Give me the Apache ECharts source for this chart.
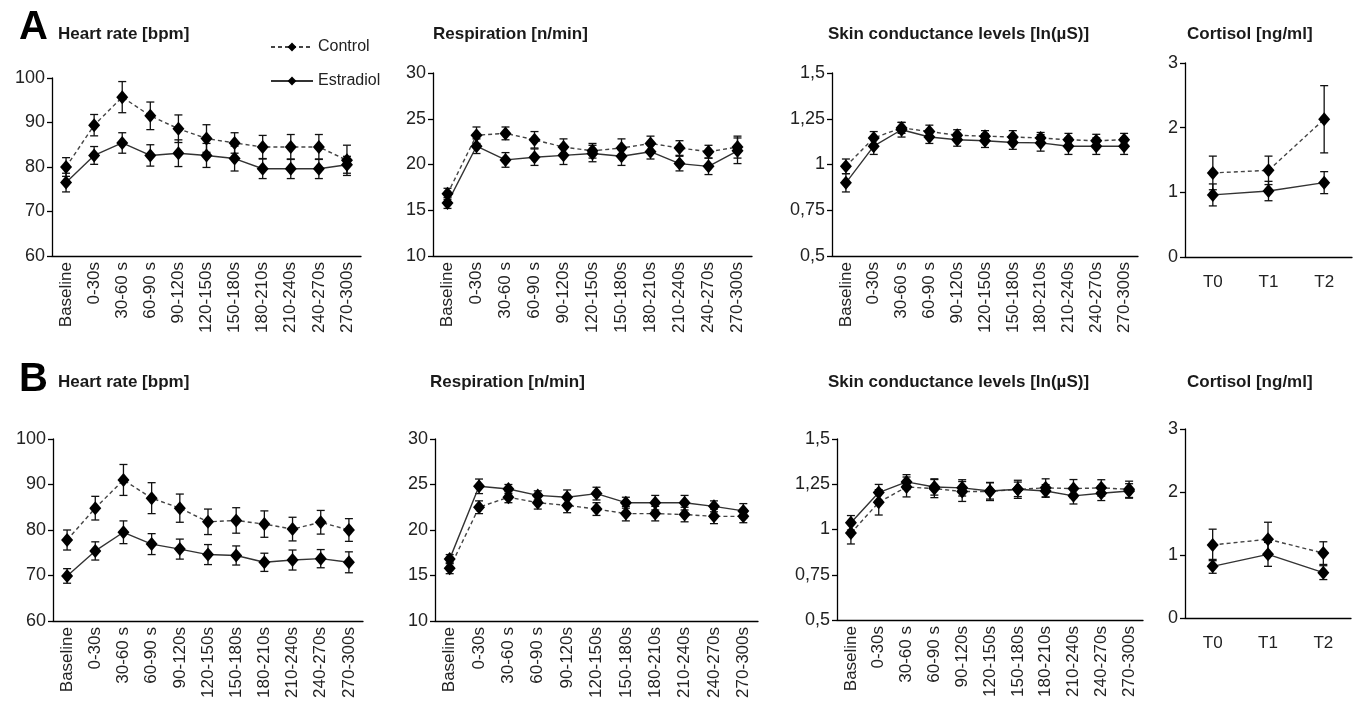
<!DOCTYPE html>
<html>
<head>
<meta charset="utf-8">
<script src="https://cdn.jsdelivr.net/npm/echarts@6/dist/echarts.min.js"></script>
<style>
  html, body { margin: 0; padding: 0; background: #fff; }
  #main { width: 1355px; height: 701px; }
</style>
</head>
<body>
<div id="main"></div>
<script>
// categories
var timeCats = ['Baseline', '0-30s', '30-60 s', '60-90 s', '90-120s', '120-150s', '150-180s', '180-210s', '210-240s', '240-270s', '270-300s'];
var cortCats = ['T0', 'T1', 'T2'];

// A: heart rate
var hrACtrl = [80.0, 89.4, 95.7, 91.5, 88.6, 86.4, 85.4, 84.5, 84.5, 84.5, 81.5];
var hrACtrlSe = [2.1, 2.4, 3.5, 3.1, 3.1, 3.1, 2.3, 2.6, 2.8, 2.8, 3.4];
var hrAEstr = [76.5, 82.6, 85.4, 82.6, 83.1, 82.6, 81.9, 79.6, 79.6, 79.6, 80.5];
var hrAEstrSe = [2.1, 2.0, 2.3, 2.4, 3.0, 2.7, 2.8, 2.2, 2.2, 2.2, 1.9];
// A: respiration
var respACtrl = [16.8, 23.2, 23.4, 22.7, 21.9, 21.5, 21.8, 22.3, 21.8, 21.4, 21.9];
var respACtrlSe = [0.6, 0.9, 0.7, 0.9, 0.9, 0.8, 1.0, 0.8, 0.8, 0.7, 1.2];
var respAEstr = [15.8, 22.0, 20.5, 20.8, 21.0, 21.2, 20.9, 21.4, 20.1, 19.8, 21.5];
var respAEstrSe = [0.6, 0.8, 0.8, 0.9, 1.0, 0.9, 1.0, 0.8, 0.8, 0.9, 1.4];
// A: skin conductance
var sclACtrl = [0.99, 1.145, 1.20, 1.18, 1.16, 1.155, 1.15, 1.145, 1.135, 1.13, 1.135];
var sclACtrlSe = [0.04, 0.035, 0.03, 0.035, 0.03, 0.03, 0.035, 0.03, 0.035, 0.035, 0.035];
var sclAEstr = [0.90, 1.10, 1.19, 1.15, 1.135, 1.13, 1.12, 1.118, 1.10, 1.10, 1.10];
var sclAEstrSe = [0.05, 0.045, 0.04, 0.035, 0.035, 0.037, 0.037, 0.045, 0.045, 0.045, 0.045];
// A: cortisol
var cortACtrl = [1.30, 1.34, 2.13];
var cortACtrlSe = [0.26, 0.22, 0.52];
var cortAEstr = [0.96, 1.02, 1.15];
var cortAEstrSe = [0.17, 0.15, 0.17];

// B: heart rate
var hrBCtrl = [77.8, 84.8, 91.0, 87.0, 84.8, 81.8, 82.1, 81.3, 80.2, 81.7, 80.0];
var hrBCtrlSe = [2.2, 2.6, 3.4, 3.4, 3.1, 2.8, 2.8, 2.9, 2.6, 2.6, 2.5];
var hrBEstr = [69.9, 75.4, 79.5, 76.9, 75.8, 74.6, 74.4, 72.9, 73.4, 73.7, 72.9];
var hrBEstrSe = [1.6, 2.0, 2.5, 2.3, 2.2, 2.2, 2.1, 2.0, 2.2, 2.0, 2.3];
// B: respiration
var respBCtrl = [15.8, 22.5, 23.6, 23.0, 22.7, 22.3, 21.8, 21.8, 21.7, 21.5, 21.5];
var respBCtrlSe = [0.6, 0.7, 0.6, 0.7, 0.8, 0.7, 0.8, 0.8, 0.8, 0.8, 0.7];
var respBEstr = [16.8, 24.8, 24.5, 23.8, 23.6, 24.0, 23.0, 23.0, 23.0, 22.6, 22.1];
var respBEstrSe = [0.5, 0.8, 0.5, 0.5, 0.8, 0.7, 0.6, 0.8, 0.8, 0.6, 0.8];
// B: skin conductance
var sclBCtrl = [0.98, 1.15, 1.235, 1.226, 1.21, 1.21, 1.222, 1.23, 1.226, 1.23, 1.222];
var sclBCtrlSe = [0.06, 0.07, 0.055, 0.05, 0.055, 0.05, 0.05, 0.05, 0.05, 0.045, 0.045];
var sclBEstr = [1.037, 1.204, 1.263, 1.235, 1.23, 1.213, 1.222, 1.213, 1.186, 1.2, 1.213];
var sclBEstrSe = [0.04, 0.045, 0.04, 0.045, 0.045, 0.045, 0.04, 0.035, 0.045, 0.04, 0.04];
// B: cortisol
var cortBCtrl = [1.16, 1.25, 1.03];
var cortBCtrlSe = [0.25, 0.27, 0.18];
var cortBEstr = [0.82, 1.01, 0.72];
var cortBEstrSe = [0.11, 0.19, 0.11];

var FONT = '"Liberation Sans", Arial, sans-serif';

// one entry per panel: data + where it sits
var panels = [
  {title: 'Heart rate [bpm]', cats: timeCats, c: hrACtrl, cs: hrACtrlSe, e: hrAEstr, es: hrAEstrSe, min: 60, max: 100, step: 10,
   box: {left: 52, top: 78, width: 309, height: 178}, tx: 58, ty: 26},
  {title: 'Respiration [n/min]', cats: timeCats, c: respACtrl, cs: respACtrlSe, e: respAEstr, es: respAEstrSe, min: 10, max: 30, step: 5,
   box: {left: 433, top: 73, width: 319, height: 183}, tx: 433, ty: 26},
  {title: 'Skin conductance levels [ln(µS)]', cats: timeCats, c: sclACtrl, cs: sclACtrlSe, e: sclAEstr, es: sclAEstrSe, min: 0.5, max: 1.5, step: 0.25,
   box: {left: 832, top: 73, width: 306, height: 183}, tx: 828, ty: 26},
  {title: 'Cortisol [ng/ml]', cats: cortCats, c: cortACtrl, cs: cortACtrlSe, e: cortAEstr, es: cortAEstrSe, min: 0, max: 3, step: 1,
   box: {left: 1185, top: 63, width: 167, height: 194}, tx: 1187, ty: 26},
  {title: 'Heart rate [bpm]', cats: timeCats, c: hrBCtrl, cs: hrBCtrlSe, e: hrBEstr, es: hrBEstrSe, min: 60, max: 100, step: 10,
   box: {left: 53, top: 439, width: 310, height: 182}, tx: 58, ty: 374},
  {title: 'Respiration [n/min]', cats: timeCats, c: respBCtrl, cs: respBCtrlSe, e: respBEstr, es: respBEstrSe, min: 10, max: 30, step: 5,
   box: {left: 435, top: 439, width: 323, height: 182}, tx: 430, ty: 374},
  {title: 'Skin conductance levels [ln(µS)]', cats: timeCats, c: sclBCtrl, cs: sclBCtrlSe, e: sclBEstr, es: sclBEstrSe, min: 0.5, max: 1.5, step: 0.25,
   box: {left: 837, top: 439, width: 306, height: 181}, tx: 828, ty: 374},
  {title: 'Cortisol [ng/ml]', cats: cortCats, c: cortBCtrl, cs: cortBCtrlSe, e: cortBEstr, es: cortBEstrSe, min: 0, max: 3, step: 1,
   box: {left: 1185, top: 429, width: 166, height: 189}, tx: 1187, ty: 374}
];

function errBars(params, api) {
  var lo = api.coord([api.value(0), api.value(1)]);
  var hi = api.coord([api.value(0), api.value(2)]);
  var w = 4;
  var st = {stroke: '#111', lineWidth: 1.3};
  return {
    type: 'group',
    children: [
      {type: 'line', shape: {x1: lo[0], y1: lo[1], x2: hi[0], y2: hi[1]}, style: st},
      {type: 'line', shape: {x1: lo[0] - w, y1: lo[1], x2: lo[0] + w, y2: lo[1]}, style: st},
      {type: 'line', shape: {x1: hi[0] - w, y1: hi[1], x2: hi[0] + w, y2: hi[1]}, style: st}
    ]
  };
}

function errData(vals, se) {
  return vals.map(function (v, i) { return [i, v - se[i], v + se[i]]; });
}

function fmtComma(v) {
  return String(v).replace('.', ',');
}

var titles = [
  {text: 'A', left: 19, top: 8, padding: 0, textStyle: {fontSize: 40, fontWeight: 'bold', color: '#000', fontFamily: FONT}},
  {text: 'B', left: 19, top: 360, padding: 0, textStyle: {fontSize: 40, fontWeight: 'bold', color: '#000', fontFamily: FONT}}
];
var grids = [], xAxes = [], yAxes = [], series = [];

panels.forEach(function (p, k) {
  var isCort = p.cats.length === 3;
  titles.push({text: p.title, left: p.tx, top: p.ty, padding: 0,
    textStyle: {fontSize: 17, fontWeight: 'bold', color: '#1a1a1a', fontFamily: FONT}});
  grids.push({left: p.box.left, top: p.box.top, width: p.box.width, height: p.box.height, containLabel: false});
  xAxes.push({
    type: 'category', gridIndex: k, data: p.cats, boundaryGap: true,
    axisLine: {lineStyle: {color: '#000', width: 1.3}},
    axisTick: {length: 5, lineStyle: {color: '#000', width: 1.3}},
    axisLabel: isCort
      ? {fontSize: 17, color: '#222', margin: 17, fontFamily: FONT}
      : {fontSize: 17, color: '#222', rotate: 90, margin: 6, interval: 0, fontFamily: FONT}
  });
  yAxes.push({
    type: 'value', gridIndex: k, min: p.min, max: p.max, interval: p.step,
    splitLine: {show: false},
    axisLine: {show: true, lineStyle: {color: '#000', width: 1.3}},
    axisTick: {show: true, length: 5, lineStyle: {color: '#000', width: 1.3}},
    axisLabel: {fontSize: 18, color: '#222', margin: 7, fontFamily: FONT, formatter: fmtComma}
  });
  series.push({
    type: 'custom', xAxisIndex: k, yAxisIndex: k, renderItem: errBars,
    encode: {x: 0, y: [1, 2]}, data: errData(p.c, p.cs), z: 3, silent: true
  });
  series.push({
    type: 'custom', xAxisIndex: k, yAxisIndex: k, renderItem: errBars,
    encode: {x: 0, y: [1, 2]}, data: errData(p.e, p.es), z: 3, silent: true
  });
  series.push({
    name: 'Control', type: 'line', xAxisIndex: k, yAxisIndex: k, data: p.c,
    symbol: 'diamond', symbolSize: [12, 14],
    itemStyle: {color: '#000'},
    lineStyle: {color: '#444', width: 1.4, type: [4, 3]},
    z: 4
  });
  series.push({
    name: 'Estradiol', type: 'line', xAxisIndex: k, yAxisIndex: k, data: p.e,
    symbol: 'diamond', symbolSize: [12, 14],
    itemStyle: {color: '#000'},
    lineStyle: {color: '#333', width: 1.4, type: 'solid'},
    z: 4
  });
});

var chart = echarts.init(document.getElementById('main'));
chart.setOption({
  animation: false,
  backgroundColor: '#fff',
  title: titles,
  legend: {
    data: ['Control', 'Estradiol'],
    orient: 'vertical', left: 265, top: 34,
    itemWidth: 42, itemHeight: 11, itemGap: 18,
    textStyle: {fontSize: 16, color: '#222', fontFamily: FONT},
    selectedMode: false
  },
  grid: grids,
  xAxis: xAxes,
  yAxis: yAxes,
  series: series
});
</script>
</body>
</html>
